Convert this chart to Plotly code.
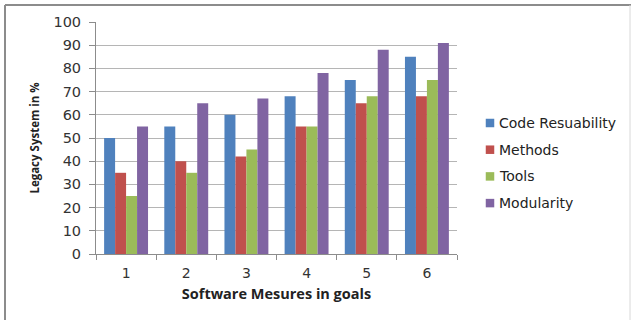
import plotly.graph_objects as go

categories = ["1", "2", "3", "4", "5", "6"]
code_resuability = [50, 55, 60, 68, 75, 85]
methods = [35, 40, 42, 55, 65, 68]
tools = [25, 35, 45, 55, 68, 75]
modularity = [55, 65, 67, 78, 88, 91]
y_ticks = [0, 10, 20, 30, 40, 50, 60, 70, 80, 90, 100]

series = [
    ("Code Resuability", code_resuability, "#4F81BD"),
    ("Methods", methods, "#C0504D"),
    ("Tools", tools, "#9BBB59"),
    ("Modularity", modularity, "#8064A2"),
]

W, H = 631, 320
ML, MR, MT, MB = 96, 174, 22, 66
PW, PH = W - ML - MR, H - MT - MB

fig = go.Figure()
for name, vals, color in series:
    fig.add_trace(go.Bar(x=categories, y=vals, name=name, showlegend=False,
                         marker=dict(color=color, line=dict(width=0))))


def px_x(p):
    return (p - ML) / PW


def px_y(p):
    return (H - MB - p) / PH


tick_font = "DejaVu Sans, Verdana, sans-serif"
title_font = "Open Sans, Lato, sans-serif"

# legend: square swatch followed by the series name
LEG_X, LEG_Y0, LEG_STEP, SW = 490, 123, 26.7, 8.5
for i, (name, vals, color) in enumerate(series):
    cy = LEG_Y0 + i * LEG_STEP
    fig.add_shape(type="rect", xref="paper", yref="paper",
                  x0=px_x(LEG_X - SW / 2), x1=px_x(LEG_X + SW / 2),
                  y0=px_y(cy + SW / 2), y1=px_y(cy - SW / 2),
                  fillcolor=color, line=dict(width=0))
    fig.add_annotation(xref="paper", yref="paper", x=px_x(LEG_X + 7), y=px_y(cy),
                       xanchor="left", yanchor="middle", showarrow=False,
                       text=name, font=dict(family=tick_font, size=14, color="#222222"))

# outer frame (top, left and right edges)
frame = dict(type="line", xref="paper", yref="paper",
             line=dict(color="#8c8c8c", width=2))
fig.add_shape(**frame, x0=px_x(5), x1=px_x(631), y0=px_y(5), y1=px_y(5))
fig.add_shape(**frame, x0=px_x(5), x1=px_x(5), y0=px_y(5), y1=px_y(320))
fig.add_shape(type="line", xref="paper", yref="paper",
              line=dict(color="#d8d8d8", width=1),
              x0=px_x(630), x1=px_x(630), y0=px_y(5), y1=px_y(320))

fig.update_layout(
    width=W, height=H,
    margin=dict(l=ML, r=MR, t=MT, b=MB, pad=0),
    paper_bgcolor="white", plot_bgcolor="white",
    barmode="group", bargap=0.27, bargroupgap=0,
    font=dict(family=tick_font, size=13, color="#333333"),
    showlegend=False,
    xaxis=dict(
        type="category", tickson="boundaries", ticks="outside", ticklen=5,
        tickcolor="#8c8c8c", showline=True, linecolor="#8c8c8c", linewidth=1,
        showgrid=False, ticklabelstandoff=6,
        tickfont=dict(family=tick_font, size=14, color="#333333"),
        title=dict(text="<b>Software Mesures in goals</b>",
                   font=dict(family=title_font, size=14.5, color="#222222"),
                   standoff=9),
    ),
    yaxis=dict(
        range=[0, 100], tickvals=y_ticks, ticks="outside", ticklen=6,
        tickcolor="#8c8c8c", showline=True, linecolor="#8c8c8c", linewidth=1,
        showgrid=True, gridcolor="#b5b5b5", gridwidth=1, zeroline=False,
        ticklabelstandoff=5,
        tickfont=dict(family=tick_font, size=14.5, color="#333333"),
        title=dict(text="<b>Legacy System in %</b>",
                   font=dict(family=title_font, size=11.5, color="#222222"),
                   standoff=11),
    ),
)

fig.write_html("out.html")
